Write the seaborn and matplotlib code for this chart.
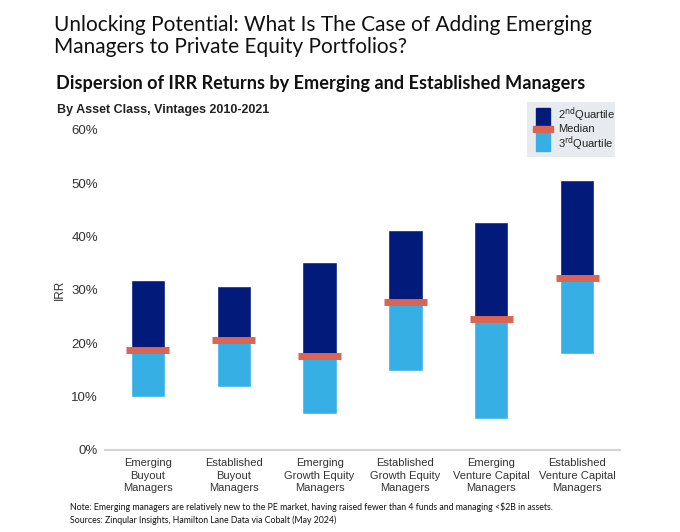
import numpy as np
import pandas as pd
import matplotlib
matplotlib.use("Agg")
import matplotlib.pyplot as plt
from matplotlib.patches import Rectangle
import seaborn as sns

# Data (IRR in %)
categories = ["Emerging\nBuyout\nManagers", "Established\nBuyout\nManagers",
              "Emerging\nGrowth Equity\nManagers", "Established\nGrowth Equity\nManagers",
              "Emerging\nVenture Capital\nManagers", "Established\nVenture Capital\nManagers"]
q1 = [9.9, 11.9, 6.8, 14.8, 5.9, 18.0]
median = [18.7, 20.6, 17.7, 27.8, 24.6, 32.2]
q3 = [31.9, 30.8, 35.3, 41.3, 42.7, 50.6]

NAVY = "#021a7a"
LIGHT = "#36b0e4"
CORAL = "#dc6452"

df = pd.DataFrame({"cat": categories, "q1": q1, "median": median, "q3": q3})
df["lower"] = df["median"] - df["q1"]
df["upper"] = df["q3"] - df["median"]

sns.set_theme(style="white")
plt.rcParams['font.family'] = ['Liberation Sans', 'DejaVu Sans']

fig = plt.figure(figsize=(6.8, 5.32), dpi=100)
ax = fig.add_axes([105 / 680, 1 - 450 / 532, 515 / 680, 320 / 532])

# 3rd quartile -> median (light), median -> 2nd quartile (navy)
sns.barplot(data=df, x="cat", y="lower", bottom=df["q1"], color=LIGHT,
            width=0.4, saturation=1, ax=ax)
sns.barplot(data=df, x="cat", y="upper", bottom=df["median"], color=NAVY,
            width=0.4, saturation=1, ax=ax)
xs = np.arange(len(categories))
ax.hlines(df["median"], xs - 0.25, xs + 0.25, color=CORAL, lw=5, zorder=5,
          capstyle="butt")

ax.set_xlim(-0.5, 5.5)
ax.set_ylim(0, 60)
ax.set_yticks(range(0, 61, 10))
ax.set_yticklabels([f"{v}%" for v in range(0, 61, 10)], fontsize=9.5, color="#333333")
ax.set_xticks(xs)
ax.set_xticklabels(categories, fontsize=8, color="#333333", linespacing=1.3)
ax.tick_params(axis="y", length=0, pad=5)
ax.tick_params(axis="x", length=0, pad=6)
ax.set_xlabel("")
ax.set_ylabel("IRR", fontsize=8.5, color="#333333", labelpad=4)
for s in ["top", "right", "left"]:
    ax.spines[s].set_visible(False)
ax.spines["bottom"].set_color("#d4d4d4")
ax.spines["bottom"].set_linewidth(1.5)

# Titles
fig.text(54 / 680, 1 - 25 / 532, "Unlocking Potential: What Is The Case of Adding Emerging",
         fontsize=15, family="Lato", va="center", color="#111111")
fig.text(54 / 680, 1 - 47 / 532, "Managers to Private Equity Portfolios?",
         fontsize=15, family="Lato", va="center", color="#111111")
fig.text(56 / 680, 1 - 84 / 532, "Dispersion of IRR Returns by Emerging and Established Managers",
         fontsize=13.1, family="Lato", weight="bold", va="center", color="#111111")
fig.text(57 / 680, 1 - 110 / 532, "By Asset Class, Vintages 2010-2021",
         fontsize=9, weight="bold", va="center", color="#222222")

# Footnotes
fig.text(70 / 680, 1 - 507 / 532,
         "Note: Emerging managers are relatively new to the PE market, having raised fewer than 4 funds and managing <$2B in assets.",
         fontsize=6.35, family="Lato", va="center", color="#111111")
fig.text(70 / 680, 1 - 520 / 532, "Sources: Zinqular Insights, Hamilton Lane Data via Cobalt (May 2024)",
         fontsize=6.35, family="Lato", va="center", color="#111111")

# Legend box
lax = fig.add_axes([527 / 680, 1 - 157 / 532, 88 / 680, 55 / 532])
lax.set_xlim(527, 615)
lax.set_ylim(157, 102)
lax.set_facecolor("#e7ebf0")
for s in lax.spines.values():
    s.set_visible(False)
lax.set_xticks([])
lax.set_yticks([])
lax.add_patch(Rectangle((536, 108), 14, 20, color=NAVY))
lax.add_patch(Rectangle((536, 128), 14, 23, color=LIGHT))
lax.add_patch(Rectangle((533, 126), 20, 6, color=CORAL))
lax.text(558, 115, "2$^{\\rm nd}$Quartile", fontsize=8, va="center", color="#222222")
lax.text(558, 129, "Median", fontsize=8, va="center", color="#222222")
lax.text(558, 144, "3$^{\\rm rd}$Quartile", fontsize=8, va="center", color="#222222")

fig.savefig("out.png", dpi=100)
